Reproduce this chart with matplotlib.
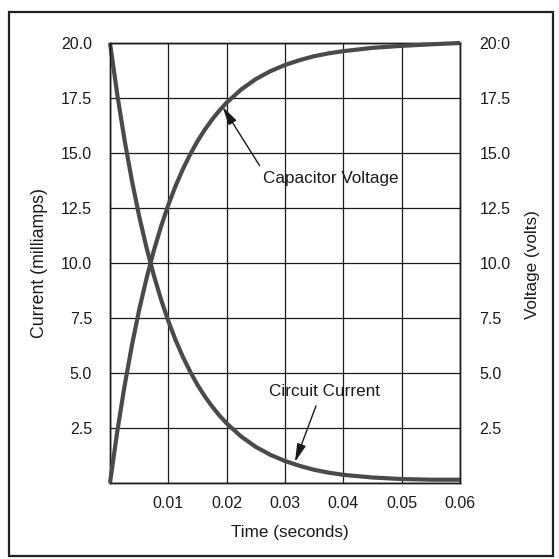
import matplotlib
matplotlib.use("Agg")
import matplotlib.pyplot as plt
from matplotlib.patches import Rectangle

# ---- data ----
time_s = [0.0, 0.00125, 0.0025, 0.00375, 0.005, 0.00625, 0.0075, 0.00875,
          0.01, 0.01125, 0.0125, 0.01375, 0.015, 0.01625, 0.0175, 0.01875,
          0.02, 0.0225, 0.025, 0.0275, 0.03, 0.0325, 0.035, 0.0375,
          0.04, 0.045, 0.05, 0.055, 0.06]
current_ma = [20.0, 17.65, 15.58, 13.75, 12.13, 10.71, 9.45, 8.34,
              7.36, 6.49, 5.73, 5.06, 4.46, 3.94, 3.48, 3.07,
              2.71, 2.11, 1.64, 1.28, 1.0, 0.78, 0.6, 0.47,
              0.37, 0.25, 0.18, 0.15, 0.15]
voltage_v = [0.0, 2.35, 4.42, 6.25, 7.87, 9.29, 10.55, 11.66,
             12.64, 13.51, 14.27, 14.94, 15.54, 16.06, 16.52, 16.93,
             17.29, 17.89, 18.36, 18.72, 19.0, 19.22, 19.4, 19.53,
             19.63, 19.78, 19.87, 19.94, 20.0]

x_ticks = [0.0, 0.01, 0.02, 0.03, 0.04, 0.05, 0.06]
x_labels = ["", "0.01", "0.02", "0.03", "0.04", "0.05", "0.06"]
y_ticks = [0.0, 2.5, 5.0, 7.5, 10.0, 12.5, 15.0, 17.5, 20.0]
left_labels = ["", "2.5", "5.0", "7.5", "10.0", "12.5", "15.0", "17.5", "20.0"]
right_labels = ["", "2.5", "5.0", "7.5", "10.0", "12.5", "15.0", "17.5", "20:0"]

plt.rcParams['font.family'] = ['Liberation Sans', 'DejaVu Sans']
FS = 11.5
FS_LBL = 12.3
W = H = 559
INK = '#1a1a1a'

fig = plt.figure(figsize=(5.59, 5.59), dpi=100)
fig.patch.set_facecolor('white')

L, R, T, B = 110, 460, 43, 483
ax = fig.add_axes([L / W, 1 - B / H, (R - L) / W, (B - T) / H])
ax2 = ax.twinx()

for a in (ax, ax2):
    a.set_xlim(0, 0.06)
    a.set_ylim(0, 20)
    for s in a.spines.values():
        s.set_linewidth(1.0)
        s.set_color(INK)

ax.set_xticks(x_ticks)
ax.set_xticklabels(x_labels, fontsize=FS)
ax.set_yticks(y_ticks)
ax.set_yticklabels(left_labels, fontsize=FS)
ax2.set_yticks(y_ticks)
ax2.set_yticklabels(right_labels, fontsize=FS)
ax.tick_params(axis='x', length=0, pad=9, colors=INK)
ax.tick_params(axis='y', length=0, pad=13, colors=INK)
ax2.tick_params(axis='y', length=0, pad=14, colors=INK)

ax.grid(True, color=INK, linewidth=0.9)
ax.set_axisbelow(True)

curve_color = '#4a4a4a'
ax.plot(time_s, current_ma, color=curve_color, lw=3.0, clip_on=False,
        solid_capstyle='butt', solid_joinstyle='round', zorder=3)
ax2.plot(time_s, voltage_v, color=curve_color, lw=3.0, clip_on=False,
         solid_capstyle='butt', solid_joinstyle='round', zorder=3)

arrow = dict(arrowstyle='-|>,head_length=0.9,head_width=0.22',
             color=INK, lw=1.0, shrinkB=0)
ax2.annotate('Capacitor Voltage', xy=(0.0193, 17.1), xytext=(0.0262, 13.85),
             fontsize=FS_LBL, ha='left', va='center', color=INK,
             arrowprops=dict(arrow, relpos=(0.0, 1.0), shrinkA=2))
ax.annotate('Circuit Current', xy=(0.0317, 0.95), xytext=(0.0367, 4.15),
            fontsize=FS_LBL, ha='center', va='center', color=INK,
            arrowprops=dict(arrow, relpos=(0.45, 0.0), shrinkA=3))

fig.text(40 / W, 1 - 263 / H, 'Current (milliamps)', rotation=90,
         ha='center', va='center', fontsize=FS_LBL + 0.5, color=INK)
fig.text(533 / W, 1 - 265 / H, 'Voltage (volts)', rotation=90,
         ha='center', va='center', fontsize=FS_LBL, color=INK)
fig.text(290 / W, 1 - 533 / H, 'Time (seconds)',
         ha='center', va='center', fontsize=FS_LBL, color=INK)

fig.patches.append(Rectangle((9 / W, 1 - 556 / H), (553 - 9) / W, (556 - 12) / H,
                             transform=fig.transFigure, fill=False,
                             edgecolor='#222222', lw=1.6))

fig.savefig('out.png', dpi=100)
